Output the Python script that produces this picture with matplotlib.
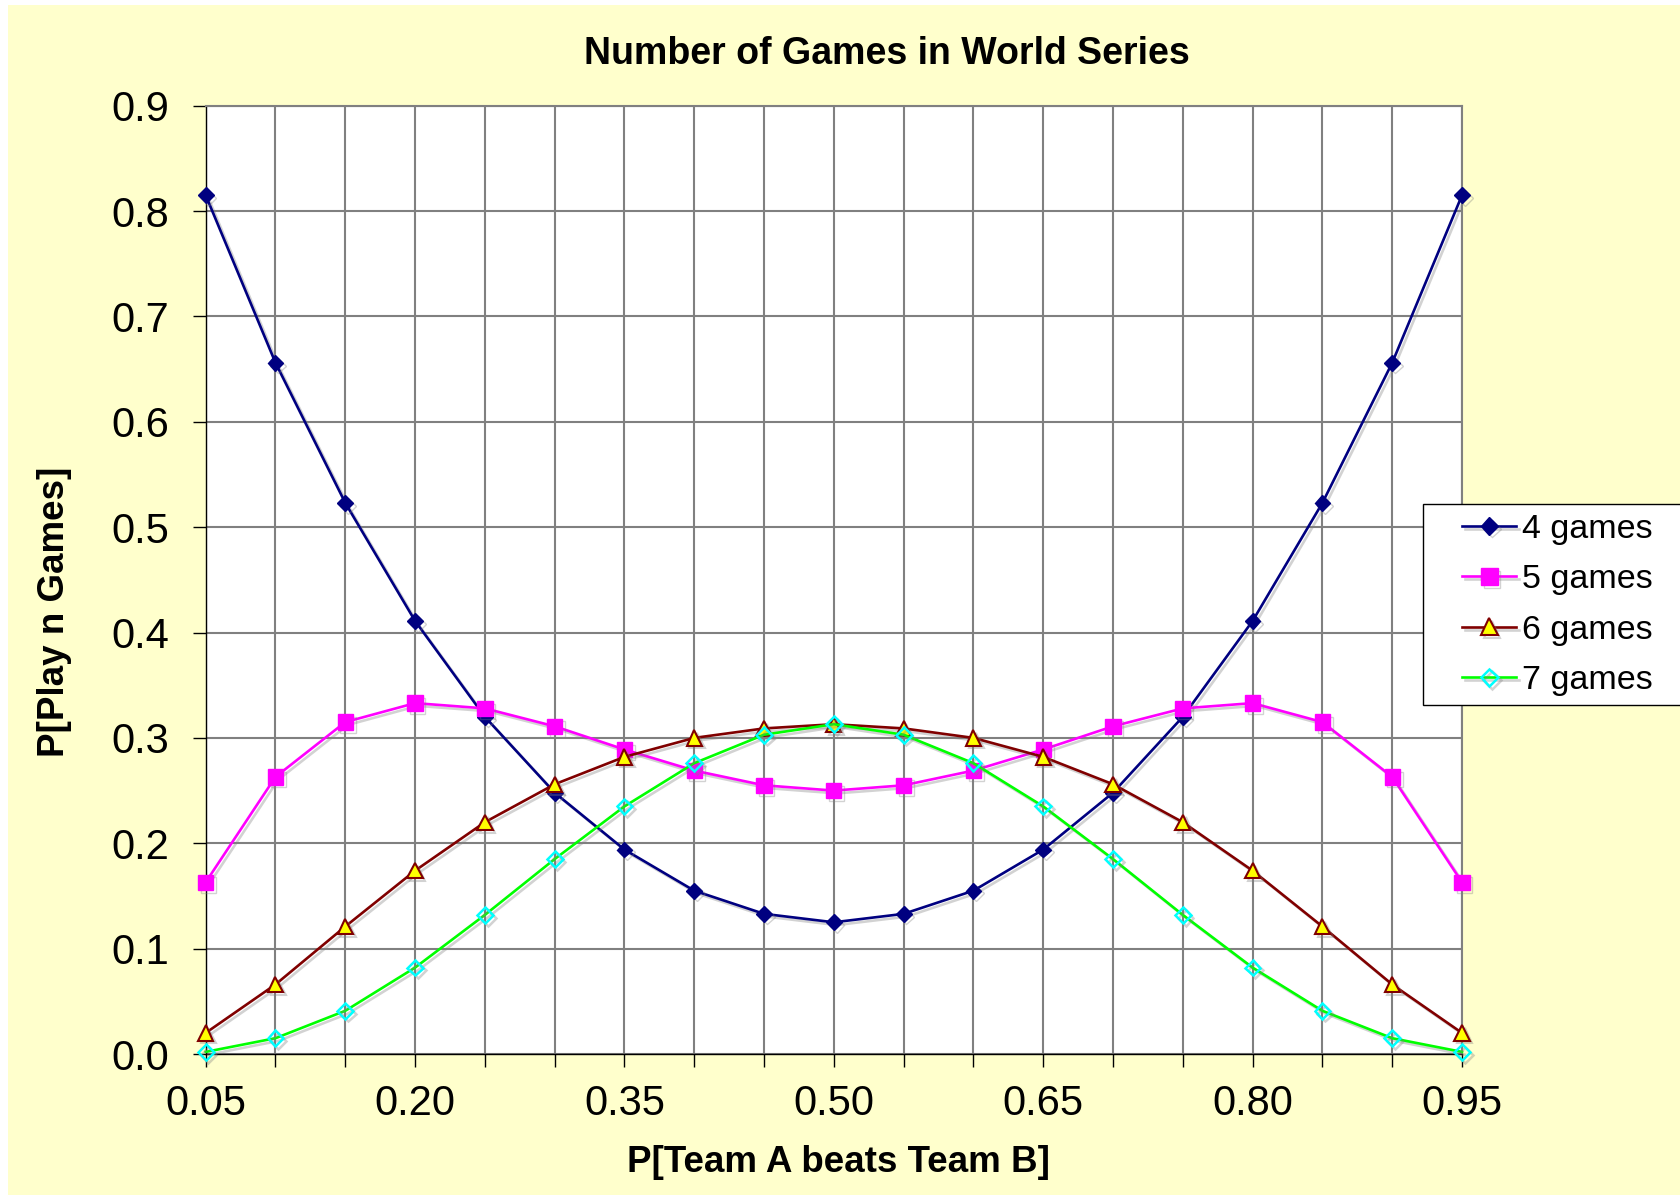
import matplotlib
matplotlib.use("Agg")
import matplotlib.pyplot as plt
from matplotlib.patches import Rectangle
import matplotlib.patheffects as pe

# P[Team A beats Team B]
p_win = [0.05, 0.10, 0.15, 0.20, 0.25, 0.30, 0.35, 0.40, 0.45, 0.50,
         0.55, 0.60, 0.65, 0.70, 0.75, 0.80, 0.85, 0.90, 0.95]

games4 = [0.815, 0.656, 0.523, 0.411, 0.320, 0.248, 0.194, 0.155, 0.133, 0.125,
          0.133, 0.155, 0.194, 0.248, 0.320, 0.411, 0.523, 0.656, 0.815]
games5 = [0.163, 0.263, 0.315, 0.333, 0.328, 0.311, 0.289, 0.269, 0.255, 0.250,
          0.255, 0.269, 0.289, 0.311, 0.328, 0.333, 0.315, 0.263, 0.163]
games6 = [0.020, 0.066, 0.121, 0.174, 0.220, 0.256, 0.282, 0.300, 0.309, 0.313,
          0.309, 0.300, 0.282, 0.256, 0.220, 0.174, 0.121, 0.066, 0.020]
games7 = [0.002, 0.015, 0.041, 0.082, 0.132, 0.185, 0.235, 0.276, 0.303, 0.313,
          0.303, 0.276, 0.235, 0.185, 0.132, 0.082, 0.041, 0.015, 0.002]

x_ticks = [0.05, 0.20, 0.35, 0.50, 0.65, 0.80, 0.95]
y_ticks = [0.0, 0.1, 0.2, 0.3, 0.4, 0.5, 0.6, 0.7, 0.8, 0.9]

W, H = 1681, 1195

plt.rcParams["font.family"] = ["Liberation Sans", "DejaVu Sans"]

fig = plt.figure(figsize=(W / 100, H / 100), dpi=100)
fig.patch.set_facecolor("white")
# yellow chart area with thin white margin at top/left
fig.patches.append(Rectangle((8 / W, 0), 1, 1 - 5 / H, transform=fig.transFigure,
                             facecolor="#FFFFCC", edgecolor="none", zorder=-1))

ax_left, ax_right, ax_top, ax_bottom = 205.7, 1462, 105.7, 1054
ax = fig.add_axes([ax_left / W, 1 - ax_bottom / H,
                   (ax_right - ax_left) / W, (ax_bottom - ax_top) / H])
ax.set_facecolor("white")

shadow = [pe.SimpleLineShadow(offset=(2, -2), shadow_color="gray", alpha=0.35), pe.Normal()]

ax.plot(p_win, games4, color="#000080", lw=1.9, marker="D", ms=8,
        mfc="#000080", mec="#000080", label="4 games", path_effects=shadow, clip_on=False, zorder=3)
ax.plot(p_win, games5, color="#FF00FF", lw=1.9, marker="s", ms=11,
        mfc="#FF00FF", mec="#FF00FF", label="5 games", path_effects=shadow, clip_on=False, zorder=3)
ax.plot(p_win, games6, color="#800000", lw=1.9, marker="^", ms=11,
        mfc="#FFFF00", mec="#800000", mew=1.5, label="6 games", path_effects=shadow, clip_on=False, zorder=3)
ax.plot(p_win, games7, color="#00FF00", lw=1.9, marker="D", ms=8,
        mfc="none", mec="#00FFFF", mew=1.8, label="7 games", path_effects=shadow, clip_on=False, zorder=3)

ax.set_xlim(0.05, 0.95)
ax.set_ylim(0, 0.9)
ax.set_xticks(p_win, minor=True)
ax.set_xticks(x_ticks)
ax.set_xticklabels([f"{v:.2f}" for v in x_ticks])
ax.set_yticks(y_ticks)
ax.set_yticklabels([f"{v:.1f}" for v in y_ticks])
ax.grid(True, which="both", color="#808080", lw=1.5)
ax.set_axisbelow(True)

ax.tick_params(axis="both", which="both", direction="out", length=9.5, width=1,
               labelsize=30, color="black")
ax.tick_params(axis="x", which="major", pad=12)
ax.tick_params(axis="y", pad=17)

for side in ["top", "right"]:
    ax.spines[side].set_color("#808080")
    ax.spines[side].set_linewidth(1.5)
for side in ["left", "bottom"]:
    ax.spines[side].set_color("black")
    ax.spines[side].set_linewidth(1)

ax.set_xlabel("P[Team A beats Team B]", fontsize=26.5, fontweight="bold", va="center")
ax.xaxis.set_label_coords((839 - ax_left) / (ax_right - ax_left), -(1163 - ax_bottom) / (ax_bottom - ax_top))
ax.set_ylabel("P[Play n Games]", fontsize=26.5, fontweight="bold", va="center")
ax.yaxis.set_label_coords(-(ax_left - 55) / (ax_right - ax_left), (ax_bottom - 612) / (ax_bottom - ax_top))
fig.text(887 / W, 1 - 54 / H, "Number of Games in World Series", fontsize=27,
         fontweight="bold", ha="center", va="center")

# legend box runs off the right edge of the picture
fig.patches.append(Rectangle((1423 / W, 1 - 705 / H), 300 / W, 201 / H, transform=fig.transFigure,
                             facecolor="white", edgecolor="black", lw=1, zorder=5))
leg = fig.legend(loc="center left", bbox_to_anchor=(1462 / W, 1 - 605 / H),
                 fontsize=24.5, frameon=False, handlelength=1.6, handletextpad=0.15,
                 labelspacing=0.57, borderpad=0, borderaxespad=0, markerscale=1.1)
leg.set_zorder(6)

fig.savefig("out.png", dpi=100)
